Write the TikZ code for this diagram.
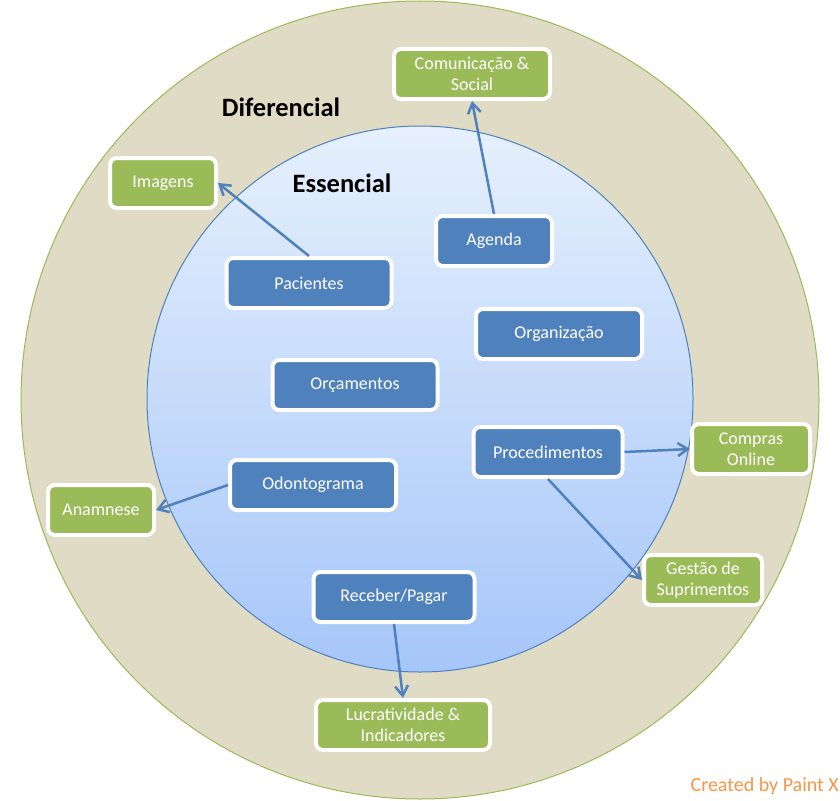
\documentclass[tikz,border=0pt]{standalone}
\usepackage{fontspec}
\setmainfont{Carlito}
\usepackage{xcolor}
\usepackage{tikz}
\usetikzlibrary{arrows.meta,shadows}

\definecolor{essblue}{HTML}{4F81BD}
\definecolor{difgreen}{HTML}{9BBB59}
\definecolor{ringbeige}{HTML}{DFDBC4}
\definecolor{coretop}{HTML}{E6F0FD}
\definecolor{corebottom}{HTML}{A6C6F9}
\definecolor{signorange}{HTML}{F79646}

\begin{document}
\begin{tikzpicture}[x=1pt, y=-1pt, >={Straight Barb[length=10pt, width=13pt]},
        module/.style={rectangle, rounded corners=7pt, draw=white, line width=4pt,
                      minimum height=50pt, font=\fontsize{18}{21}\selectfont, text=white, align=center,
                      drop shadow={opacity=0.25, shadow xshift=1.5pt, shadow yshift=-2pt}},
        core/.style={module, fill=essblue},
        extra/.style={module, fill=difgreen},
        link/.style={->, draw=essblue, line width=2.5pt},
        ringlabel/.style={font=\fontsize{26.5}{30}\selectfont\bfseries}]
        \useasboundingbox (0,0) rectangle (840,800);
        \draw[difgreen, fill=ringbeige, line width=1pt] (420,400) circle[radius=399pt];
        \draw[essblue, top color=coretop, bottom color=corebottom, line width=1pt] (420,399) circle[radius=273pt];

        \node[ringlabel] (diferencial) at (281,107) {Diferencial};
        \node[ringlabel] (essencial)   at (342,183) {Essencial};

        \node[extra, minimum width=156pt] (comunicacao)   at (472,74)  {Comunicação \&\\Social};
        \node[extra, minimum width=106pt] (imagens)       at (163,183) {Imagens};
        \node[core,  minimum width=116pt] (agenda)        at (494,241) {Agenda};
        \node[core,  minimum width=165pt] (pacientes)     at (309,283) {Pacientes};
        \node[core,  minimum width=166pt] (organizacao)   at (559,334) {Organização};
        \node[core,  minimum width=165pt] (orcamentos)    at (355,385) {Orçamentos};
        \node[core,  minimum width=149pt] (procedimentos) at (548,452) {Procedimentos};
        \node[core,  minimum width=166pt] (odontograma)   at (313,485) {Odontograma};
        \node[extra, minimum width=106pt] (anamnese)      at (101,510) {Anamnese};
        \node[extra, minimum width=118pt] (compras)       at (751,449) {Compras\\Online};
        \node[extra, minimum width=118pt] (gestao)        at (703,580) {Gestão de\\Suprimentos};
        \node[core,  minimum width=161pt] (receber)       at (394,597) {Receber/Pagar};
        \node[extra, minimum width=174pt] (lucratividade) at (403,725) {Lucratividade \&\\Indicadores};

        \draw[link] (pacientes.north) -- (imagens.east);
        \draw[link] (agenda.north) -- (comunicacao.south);
        \draw[link] (odontograma.west) -- (anamnese.east);
        \draw[link] (procedimentos.east) -- (compras.west);
        \draw[link] (procedimentos.south) -- (gestao.west);
        \draw[link] (receber.south) -- (lucratividade.north);

        \node[font=\fontsize{20}{24}\selectfont, text=signorange, anchor=east, inner sep=0pt] (credit) at (839,786) {Created by Paint X};
    \end{tikzpicture}
\end{document}
